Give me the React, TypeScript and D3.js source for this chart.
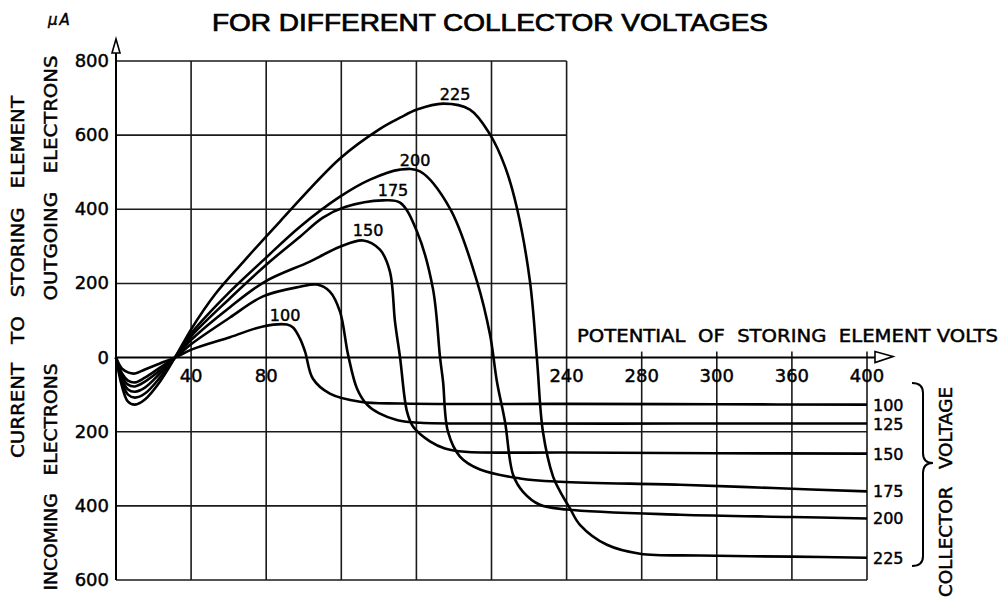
import React, { useEffect, useRef } from 'react';
import * as d3 from 'd3';

const W = 1003;
const H = 601;

// collector voltages, one curve each
const voltages = ['100', '125', '150', '175', '200', '225'];

// [potential of storing element (V), current (uA, + outgoing / - incoming)]
const c100 = [[0, 0], [3.2, -30], [6.4, -40], [10.1, -43], [15.4, -32], [23.4, -16], [31.4, 0], [40.5, 22], [60.7, 55], [78.3, 84], [91.1, 89], [94.3, 81], [98, 51], [100.7, 16], [104.9, -57], [113.9, -97], [130, -119], [151.3, -124], [240, -125], [320, -126], [400, -127]];
const c125 = [[0, 0], [3.2, -43], [6.4, -62], [10.1, -67], [15.4, -54], [23.4, -27], [31.4, 0], [40.5, 38], [60.7, 108], [78.3, 165], [98, 191], [107, 197], [113.9, 178], [119.3, 124], [123.6, 8], [128.4, -84], [133.7, -127], [140, -150], [150, -169], [162, -176], [200, -178], [300, -178], [400, -178]];
const c150 = [[0, 0], [3.2, -51], [6.4, -73], [10.1, -78], [15.4, -65], [23.4, -35], [31.4, 0], [40.5, 50], [60.7, 136], [79.4, 205], [103.3, 259], [119.3, 299], [131.6, 316], [140.6, 291], [145.9, 232], [148.6, 97], [151.3, 0], [155, -146], [158.2, -186], [167.2, -226], [175.2, -245], [185.9, -254], [240, -256], [320, -258], [400, -259]];
const c175 = [[0, 0], [3.2, -59], [6.4, -86], [10.1, -92], [15.4, -81], [23.4, -43], [31.4, 0], [40.5, 60], [60.7, 160], [82, 259], [98, 326], [110, 377], [122, 406], [142.2, 424], [151.3, 418], [160.3, 340], [168.8, 186], [172.6, 0], [174.2, -65], [176.8, -200], [183.2, -267], [193.9, -302], [215.2, -326], [236.5, -335], [300.4, -343], [350, -352], [400, -361]];
const c200 = [[0, 0], [3.2, -67], [6.4, -100], [10.1, -108], [15.4, -97], [23.4, -54], [31.4, 0], [40.5, 68], [60.7, 178], [79.4, 267], [98, 353], [119.3, 434], [135.3, 480], [151.3, 507], [161.9, 502], [177.9, 402], [192.3, 205], [199.2, 62], [202.9, -65], [207.2, -173], [211.5, -316], [216.8, -362], [225.8, -397], [240.2, -410], [300.4, -424], [360, -430], [400, -434]];
const c225 = [[0, 0], [3.2, -78], [6.4, -119], [10.1, -127], [15.4, -113], [23.4, -65], [31.4, 0], [40.5, 80], [52.7, 170], [67.6, 257], [87.3, 367], [119.3, 537], [140.6, 617], [151.3, 647], [160.3, 669], [174.2, 685], [188.5, 669], [199.2, 602], [207.2, 515], [213.6, 402], [220.5, 205], [224.2, -3], [227.4, -200], [232.8, -321], [236.5, -361], [241.8, -407], [247.1, -451], [261.5, -505], [279.1, -529], [311, -534], [360, -537], [400, -540]];
const curves = [c100, c125, c150, c175, c200, c225];

// peak labels (125 has none on the original)
const peakLabels = ['100', '', '150', '175', '200', '225'];
const peakLabelDx = [-2, 0, 5, 10, 15, 12];

const xGrid = [0, 40, 80, 120, 160, 200, 240, 280, 320, 360, 400];
const xTickValues = [40, 80, 240, 280, 320, 360, 400];
const xTickLabels = ['40', '80', '240', '280', '300', '360', '400'];
const yTicks = [800, 600, 400, 200, 0, -200, -400, -600];

const FONT = '"DejaVu Sans", sans-serif';

export default function App() {
  const ref = useRef<SVGSVGElement>(null);

  useEffect(() => {
    const svg = d3.select(ref.current);
    svg.selectAll('*').remove();

    const x = d3.scaleLinear().domain([0, 400]).range([116, 867]);
    const y = d3.scaleLinear().domain([-600, 800]).range([580, 61]);

    svg.append('rect').attr('width', W).attr('height', H).attr('fill', '#fff');

    // grid
    const grid = svg.append('g').attr('stroke', '#1a1a1a').attr('stroke-width', 1.6);
    xGrid.forEach(v => {
      grid.append('line')
        .attr('x1', x(v)).attr('x2', x(v))
        .attr('y1', v <= 240 ? y(800) : y(0) - 6)
        .attr('y2', y(-600));
    });
    yTicks.forEach(v => {
      if (v === 0) return;
      grid.append('line')
        .attr('x1', x(0)).attr('x2', v > 0 ? x(240) : x(400))
        .attr('y1', y(v)).attr('y2', y(v));
    });

    // axes with open arrowheads
    const ax = svg.append('g').attr('stroke', '#000').attr('stroke-width', 2).attr('fill', 'none');
    ax.append('line').attr('x1', x(0)).attr('x2', x(0)).attr('y1', y(-600)).attr('y2', y(800) - 8);
    ax.append('path').attr('d', `M${x(0)},${y(800) - 22} L${x(0) - 4},${y(800) - 8} L${x(0) + 4},${y(800) - 8} Z`).attr('stroke-width', 1.6);
    ax.append('line').attr('x1', x(0)).attr('x2', x(400) + 8).attr('y1', y(0)).attr('y2', y(0));
    ax.append('path').attr('d', `M${x(400) + 26},${y(0) - 1} L${x(400) + 8},${y(0) - 6} L${x(400) + 8},${y(0) + 5} Z`).attr('stroke-width', 1.6);

    // curves
    const line = d3.line<number[]>()
      .x(d => x(d[0]))
      .y(d => y(d[1]))
      .curve(d3.curveCatmullRom.alpha(0.5));
    svg.append('g')
      .selectAll('path')
      .data(curves)
      .enter().append('path')
      .attr('d', d => line(d))
      .attr('fill', 'none')
      .attr('stroke', '#000')
      .attr('stroke-width', 2.6)
      .attr('stroke-linejoin', 'round');

    const txt = svg.append('g').attr('font-family', FONT).attr('fill', '#000')
      .attr('stroke', '#000').attr('stroke-width', 0.45);

    // peak labels
    curves.forEach((c, i) => {
      if (!peakLabels[i]) return;
      const pk = c.reduce((a, b) => (b[1] > a[1] ? b : a));
      txt.append('text')
        .attr('x', x(pk[0]) + peakLabelDx[i]).attr('y', y(pk[1]) - 4)
        .attr('text-anchor', 'middle').attr('font-size', 16)
        .text(peakLabels[i]);
    });

    // right-end voltage labels
    curves.forEach((c, i) => {
      const last = c[c.length - 1];
      txt.append('text')
        .attr('x', x(400) + 6).attr('y', y(last[1]) + 6)
        .attr('font-size', 16)
        .text(voltages[i]);
    });

    // y tick labels
    yTicks.forEach(v => {
      txt.append('text')
        .attr('x', x(0) - 7).attr('y', y(v) + 6)
        .attr('text-anchor', 'end').attr('font-size', 18)
        .text(Math.abs(v));
    });

    // x tick labels
    xTickValues.forEach((v, i) => {
      txt.append('text')
        .attr('x', x(v)).attr('y', y(0) + 24)
        .attr('text-anchor', 'middle').attr('font-size', 18)
        .text(xTickLabels[i]);
    });

    // titles
    txt.append('text')
      .attr('x', 212).attr('y', 31)
      .attr('font-size', 23).attr('font-family', '"Liberation Sans", Arial, sans-serif')
      .attr('stroke-width', 0.7)
      .attr('textLength', 556).attr('lengthAdjust', 'spacingAndGlyphs')
      .text('FOR DIFFERENT COLLECTOR VOLTAGES');
    txt.append('text')
      .attr('x', 48).attr('y', 25).attr('font-size', 15).attr('font-style', 'italic')
      .attr('letter-spacing', 2)
      .text('μA');

    txt.append('text')
      .attr('x', 577).attr('y', 342).attr('font-size', 17)
      .attr('textLength', 421).attr('lengthAdjust', 'spacingAndGlyphs')
      .style('white-space', 'pre')
      .text('POTENTIAL  OF  STORING  ELEMENT VOLTS');

    const vText = (cx: number, cy: number, len: number, s: string) => {
      txt.append('text')
        .attr('transform', `translate(${cx},${cy}) rotate(-90)`)
        .attr('text-anchor', 'middle').attr('dominant-baseline', 'central')
        .attr('font-size', 17)
        .attr('textLength', len).attr('lengthAdjust', 'spacingAndGlyphs')
        .style('white-space', 'pre')
        .text(s);
    };
    vText(18, 277, 362, 'CURRENT   TO   STORING   ELEMENT');
    vText(51, 178, 245, 'OUTGOING   ELECTRONS');
    vText(51, 477, 227, 'INCOMING   ELECTRONS');
    vText(946, 492, 210, 'COLLECTOR   VOLTAGE');

    // brace
    svg.append('path')
      .attr('d', 'M912,383 Q923,383 923,393 L923,453 Q923,463 933,463 Q923,463 923,473 L923,556 Q923,566 912,566')
      .attr('fill', 'none').attr('stroke', '#000').attr('stroke-width', 2);
  }, []);

  return (
    <svg
      ref={ref}
      width={W}
      height={H}
      style={{ position: 'absolute', left: 0, top: 0 }}
    />
  );
}
